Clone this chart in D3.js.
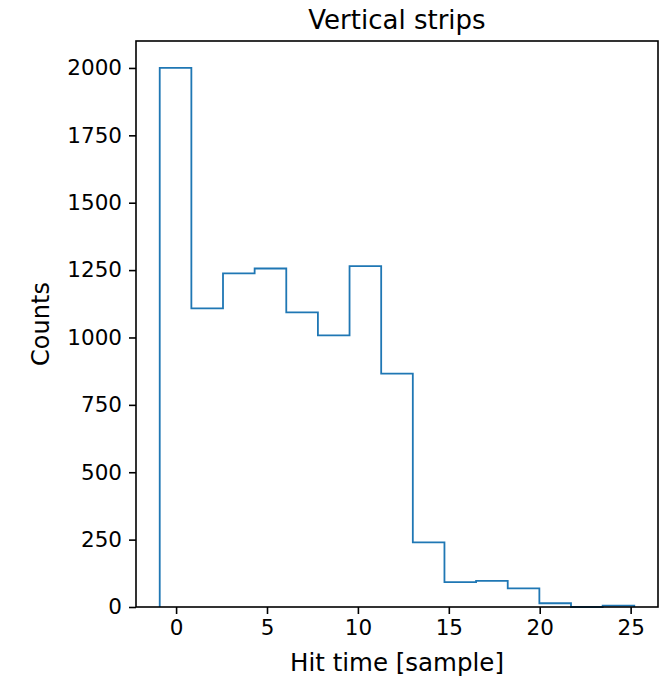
<!DOCTYPE html>
<html>
<head>
<meta charset="utf-8">
<script src="https://cdn.jsdelivr.net/npm/d3@7"></script>
<style>
  body { margin: 0; background: #fff; }
  svg text { font-family: "DejaVu Sans", sans-serif; fill: #000; }
</style>
</head>
<body>
<div id="chart"></div>
<script>
// bin edges and counts
const binEdges = [-0.9, 0.84, 2.58, 4.32, 6.06, 7.8, 9.54, 11.28, 13.02, 14.76, 16.5, 18.24, 19.98, 21.72, 23.46, 25.2];
const counts = [2000, 1108, 1238, 1256, 1093, 1008, 1265, 866, 240, 92, 97, 69, 14, 0, 5];
const xTicks = [0, 5, 10, 15, 20, 25];
const yTicks = [0, 250, 500, 750, 1000, 1250, 1500, 1750, 2000];

const W = 672, H = 679;
const margin = { left: 136, right: 14, top: 41, bottom: 72 };
const iw = W - margin.left - margin.right;
const ih = H - margin.top - margin.bottom;

const svg = d3.select('#chart').append('svg').attr('width', W).attr('height', H);
const g = svg.append('g').attr('transform', `translate(${margin.left},${margin.top})`);

const lo = binEdges[0], hi = binEdges[binEdges.length - 1];
const pad = (hi - lo) * 0.05;
const x = d3.scaleLinear().domain([lo - pad, hi + pad]).range([0, iw]);
const y = d3.scaleLinear().domain([0, 2100]).range([ih, 0]);

// step outline like histtype='step'
const pts = [[binEdges[0], 0]];
counts.forEach((c, i) => {
  pts.push([binEdges[i], c]);
  pts.push([binEdges[i + 1], c]);
});
pts.push([hi, 0]);

g.append('path')
  .datum(pts)
  .attr('fill', 'none')
  .attr('stroke', '#1f77b4')
  .attr('stroke-width', 1.8)
  .attr('d', d3.line().x((d) => x(d[0])).y((d) => y(d[1])));

const xAxis = g.append('g')
  .attr('transform', `translate(0,${ih})`)
  .call(d3.axisBottom(x).tickValues(xTicks).tickSize(7).tickPadding(6).tickFormat(d3.format('d')));
const yAxis = g.append('g')
  .call(d3.axisLeft(y).tickValues(yTicks).tickSize(7).tickPadding(7).tickFormat(d3.format('d')));

[xAxis, yAxis].forEach((a) => {
  a.select('.domain').remove();
  a.selectAll('.tick line').attr('stroke', '#000').attr('stroke-width', 1.6);
  a.selectAll('.tick text').attr('font-size', 21.5).attr('font-family', '"DejaVu Sans", sans-serif');
});

g.append('rect')
  .attr('width', iw).attr('height', ih)
  .attr('fill', 'none').attr('stroke', '#000').attr('stroke-width', 1.6);

svg.append('text')
  .attr('x', margin.left + iw / 2).attr('y', 29)
  .attr('text-anchor', 'middle').attr('font-size', 26)
  .text('Vertical strips');

svg.append('text')
  .attr('x', margin.left + iw / 2).attr('y', 671)
  .attr('text-anchor', 'middle').attr('font-size', 24.5)
  .text('Hit time [sample]');

svg.append('text')
  .attr('transform', `translate(49,${margin.top + ih / 2}) rotate(-90)`)
  .attr('text-anchor', 'middle').attr('font-size', 24)
  .text('Counts');
</script>
</body>
</html>
